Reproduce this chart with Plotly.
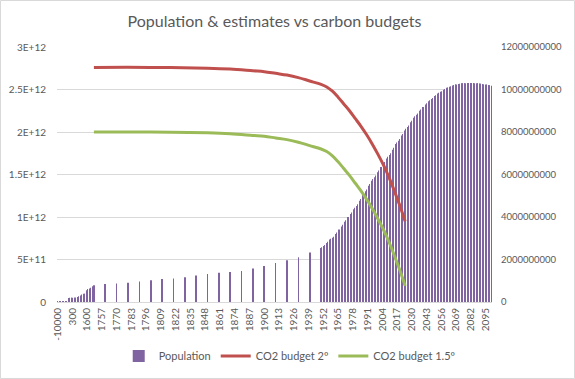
import plotly.graph_objects as go

# ---------------- data ----------------
early_years = [-10000, -9000, -8000, -7000, -6000, -5000, -4000, -3000, -2000, -1000,
               0, 100, 200, 300, 400, 500, 600, 700, 800, 900, 1000, 1100, 1200, 1300,
               1400, 1500, 1600, 1700, 1710, 1720, 1730, 1740]
annual_years = list(range(1750, 2101))
categories = [str(y) for y in early_years] + [str(y) for y in annual_years]

# population (billions)
pop_early = [0.004, 0.005, 0.005, 0.006, 0.007, 0.009, 0.012, 0.018, 0.027, 0.050,
             0.19, 0.195, 0.20, 0.205, 0.21, 0.21, 0.215, 0.225, 0.24, 0.27, 0.30, 0.35,
             0.39, 0.39, 0.39, 0.46, 0.55, 0.61, 0.64, 0.67, 0.70, 0.74]
decadal_years = [1750, 1760, 1770, 1780, 1790, 1800, 1810, 1820, 1830, 1840, 1850,
                 1860, 1870, 1880, 1890, 1900, 1910, 1920, 1930, 1940]
pop_decadal = [0.79, 0.85, 0.87, 0.91, 0.97, 1.02, 1.08, 1.11, 1.17, 1.25, 1.32,
               1.38, 1.41, 1.46, 1.58, 1.69, 1.83, 1.96, 2.11, 2.33]
modern_years = list(range(1950, 2101))
pop_modern = [
    2.54, 2.58, 2.63, 2.68, 2.73, 2.78, 2.83, 2.88, 2.94, 2.98,
    3.02, 3.07, 3.13, 3.20, 3.27, 3.34, 3.41, 3.48, 3.55, 3.63,
    3.70, 3.78, 3.85, 3.92, 4.00, 4.07, 4.14, 4.21, 4.29, 4.36,
    4.44, 4.52, 4.60, 4.68, 4.76, 4.85, 4.94, 5.03, 5.12, 5.21,
    5.30, 5.39, 5.47, 5.55, 5.63, 5.71, 5.79, 5.87, 5.95, 6.03,
    6.11, 6.19, 6.27, 6.35, 6.43, 6.51, 6.59, 6.67, 6.75, 6.83,
    6.92, 7.00, 7.09, 7.17, 7.26, 7.34, 7.43, 7.51, 7.59, 7.67,
    7.75, 7.83, 7.91, 7.99, 8.07, 8.15, 8.23, 8.31, 8.38, 8.46,
    8.53, 8.60, 8.67, 8.74, 8.81, 8.87, 8.94, 9.00, 9.06, 9.12,
    9.18, 9.24, 9.29, 9.35, 9.40, 9.45, 9.50, 9.55, 9.60, 9.64,
    9.69, 9.73, 9.77, 9.81, 9.85, 9.89, 9.92, 9.96, 9.99, 10.02,
    10.05, 10.08, 10.10, 10.13, 10.15, 10.17, 10.19, 10.21, 10.23, 10.24,
    10.25, 10.26, 10.27, 10.28, 10.29, 10.29, 10.30, 10.30, 10.31, 10.31,
    10.31, 10.31, 10.31, 10.31, 10.31, 10.30, 10.30, 10.29, 10.29, 10.28,
    10.27, 10.27, 10.26, 10.25, 10.24, 10.23, 10.22, 10.21, 10.20, 10.19,
    10.18]

# CO2 budgets (units of 1e12)
co2_years = [1750, 1800, 1850, 1870, 1890, 1900, 1910, 1920, 1930, 1940, 1950,
             1955, 1960, 1965, 1970, 1975, 1980, 1985, 1990, 1995, 2000, 2005,
             2010, 2015, 2020, 2024]
co2_2deg = [2.76, 2.76, 2.75, 2.74, 2.72, 2.71, 2.69, 2.67, 2.64, 2.60, 2.56,
            2.53, 2.48, 2.41, 2.33, 2.25, 2.16, 2.07, 1.97, 1.86, 1.74, 1.61,
            1.46, 1.29, 1.11, 0.95]
co2_15deg = [2.00, 2.00, 1.99, 1.98, 1.96, 1.95, 1.93, 1.91, 1.88, 1.84, 1.80,
             1.77, 1.72, 1.65, 1.57, 1.49, 1.40, 1.31, 1.21, 1.10, 0.98, 0.85,
             0.70, 0.53, 0.35, 0.19]

left_ticks = [0, 0.5e12, 1e12, 1.5e12, 2e12, 2.5e12, 3e12]
left_ticktext = ["0", "5E+11", "1E+12", "1.5E+12", "2E+12", "2.5E+12", "3E+12"]
right_ticks = [0, 2e9, 4e9, 6e9, 8e9, 10e9, 12e9]
right_ticktext = ["0", "2000000000", "4000000000", "6000000000", "8000000000",
                  "10000000000", "12000000000"]

# ---------------- figure ----------------
pop_x = [str(y) for y in early_years + decadal_years + modern_years]
pop_y = [v * 1e9 for v in pop_early + pop_decadal + pop_modern]
pattern_shapes = ([""] + ["|"] * (len(early_years) - 1) + [""] * len(decadal_years)
                  + ["|"] * len(modern_years))

FONT = "Lato"
GREY = "#595959"
PURPLE = "#8064A2"

fig = go.Figure()
fig.add_trace(go.Bar(
    x=pop_x, y=pop_y, name="Population", yaxis="y",
    marker=dict(color=PURPLE, line=dict(width=0),
                pattern=dict(shape=pattern_shapes, fgcolor="white", bgcolor=PURPLE,
                             size=3, solidity=0.34, fillmode="replace")),
    width=0.6,
))
fig.add_trace(go.Scatter(
    x=[str(y) for y in co2_years], y=[v * 1e12 for v in co2_2deg],
    name="CO2 budget 2º", yaxis="y2", mode="lines",
    line=dict(color="#C0504D", width=3, shape="spline"),
))
fig.add_trace(go.Scatter(
    x=[str(y) for y in co2_years], y=[v * 1e12 for v in co2_15deg],
    name="CO2 budget 1.5º", yaxis="y2", mode="lines",
    line=dict(color="#9BBB59", width=3, shape="spline"),
))

L, R, T, B = 57, 83, 47, 77
W, H = 575, 379
pw, ph = W - L - R, H - T - B

fig.update_layout(
    width=W, height=H,
    margin=dict(l=L, r=R, t=T, b=B, autoexpand=False),
    paper_bgcolor="white", plot_bgcolor="white",
    font=dict(family=FONT, color=GREY, size=10),
    title=dict(text="Population & estimates vs carbon budgets",
               x=0.5, xref="paper", xanchor="center",
               y=1 - 21 / H, yref="container", yanchor="middle", automargin=False,
               font=dict(family=FONT, size=16, color=GREY)),
    bargap=0.4,
    showlegend=True,
    legend=dict(orientation="h", x=0.535, xanchor="center", y=-(356 - (H - B)) / ph,
                yanchor="middle", font=dict(family=FONT, size=11, color=GREY),
                bgcolor="rgba(0,0,0,0)"),
    xaxis=dict(type="category", categoryorder="array", categoryarray=categories,
               range=[-0.5, len(categories) - 0.5], automargin=False,
               tickmode="array", tickvals=categories[::13], ticktext=categories[::13],
               tickangle=-90, tickfont=dict(family=FONT, size=10, color=GREY),
               showgrid=False, showline=True, linecolor="#D9D9D9", linewidth=1,
               ticks="", ticklabelstandoff=1),
    yaxis=dict(side="right", range=[0, 12e9], tickmode="array", automargin=False,
               tickvals=right_ticks, ticktext=right_ticktext,
               showgrid=True, gridcolor="#D9D9D9", gridwidth=1, zeroline=False,
               tickfont=dict(family=FONT, size=9.5, color=GREY),
               ticks="", ticklabelstandoff=8),
    yaxis2=dict(side="left", overlaying="y", range=[0, 3e12], tickmode="array",
                automargin=False,
                tickvals=left_ticks, ticktext=left_ticktext,
                showgrid=False, zeroline=False,
                tickfont=dict(family=FONT, size=10, color=GREY),
                ticks="", ticklabelstandoff=10),
    shapes=[dict(type="rect", xref="paper", yref="paper",
                 x0=(0.5 - L) / pw, x1=(W - 0.5 - L) / pw,
                 y0=-(B - 0.5) / ph, y1=(ph + T - 0.5) / ph,
                 line=dict(color="#D9D9D9", width=1), fillcolor="rgba(0,0,0,0)",
                 layer="below")],
)

fig.write_html("out.html", config={"displayModeBar": False},
               post_script="document.body.style.margin='0px';"
                           "document.body.style.overflow='hidden';")
